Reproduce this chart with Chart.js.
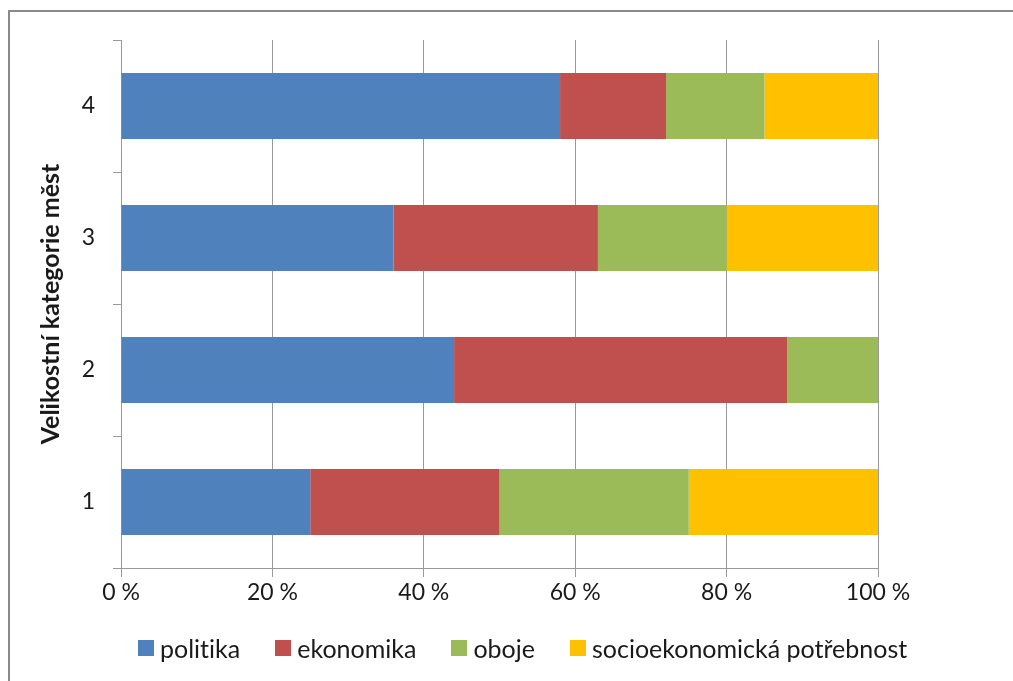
<!DOCTYPE html>
<html>
<head>
<meta charset="utf-8">
<script src="https://cdn.jsdelivr.net/npm/chart.js@4"></script>
<style>
    body { margin: 0; background: #fff; overflow: hidden; }
    #wrap { position: relative; width: 1013px; height: 681px; }
    #frame { position: absolute; left: 8px; top: 10px; width: 1100px; height: 700px; border: 2px solid #8a8a8a; }
    #chart_categories { position: absolute; left: 0; top: 0; }
    #legend { position: absolute; left: 138px; top: 633px; display: flex; gap: 35px; font-family: Lato, sans-serif; font-size: 25px; color: #1a1a1a; font-variant-ligatures: none; }
    #legend span.item { display: flex; align-items: center; white-space: nowrap; }
    #legend span.box { width: 16px; height: 16px; margin-right: 6px; display: inline-block; }
</style>
</head>
<body>
<div id="wrap">
    <div id="frame"></div>
    <canvas id="chart_categories" width="1013" height="681"></canvas>
    <div id="legend"></div>
</div>
<script>
const categories = ['1', '2', '3', '4'];
const politika = [25, 44, 36, 58];
const ekonomika = [25, 44, 27, 14];
const oboje = [25, 12, 17, 13];
const potrebnost = [25, 0, 20, 15];
const xTicks = [0, 20, 40, 60, 80, 100];

const seriesList = [
    { label: 'politika', values: politika, color: '#4F81BD' },
    { label: 'ekonomika', values: ekonomika, color: '#C0504D' },
    { label: 'oboje', values: oboje, color: '#9BBB59' },
    { label: 'socioekonomická potřebnost', values: potrebnost, color: '#FFC000' }
];

const gridColor = '#9a9a9a';
const textColor = '#1a1a1a';
Chart.defaults.font.family = 'Lato, sans-serif';
Chart.defaults.color = textColor;

new Chart(document.getElementById('chart_categories'), {
    type: 'bar',
    data: {
        labels: categories,
        datasets: seriesList.map(item => ({
            label: item.label,
            data: item.values,
            backgroundColor: item.color,
            borderWidth: 0,
            barPercentage: 0.5,
            categoryPercentage: 1
        }))
    },
    options: {
        indexAxis: 'y',
        responsive: false,
        animation: false,
        layout: { padding: { left: 10, top: 40, right: 135, bottom: 0 } },
        plugins: {
            legend: { display: false },
            tooltip: { enabled: false }
        },
        scales: {
            x: {
                stacked: true,
                min: 0,
                max: 100,
                afterBuildTicks: scale => { scale.ticks = xTicks.map(v => ({ value: v })); },
                afterFit: scale => { scale.height = 113; },
                ticks: {
                    padding: 2,
                    font: { size: 23 },
                    callback: value => value + ' %'
                },
                grid: { color: gridColor, tickLength: 9 },
                border: { color: gridColor }
            },
            y: {
                stacked: true,
                reverse: true,
                afterFit: scale => { scale.width = 111; },
                title: {
                    display: true,
                    text: 'Velikostní kategorie měst',
                    font: { size: 25, weight: 'bold' },
                    padding: { top: 26, bottom: 0 }
                },
                ticks: { padding: 18, font: { size: 23 } },
                grid: { offset: true, drawOnChartArea: false, color: gridColor, tickLength: 8 },
                border: { color: gridColor }
            }
        }
    }
});
</script>
<script>
// plain HTML legend below the axis
const legendBox = document.getElementById('legend');
seriesList.forEach(item => {
    const el = document.createElement('span');
    el.className = 'item';
    el.innerHTML = `<span class="box" style="background:${item.color}"></span>${item.label}`;
    legendBox.appendChild(el);
});
</script>
</body>
</html>
